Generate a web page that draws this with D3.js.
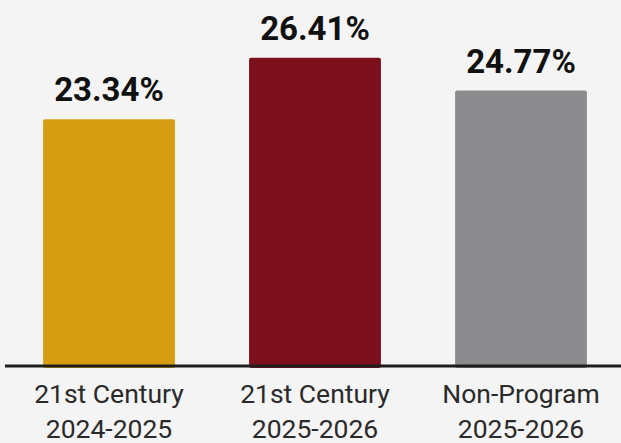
<!DOCTYPE html>
<html>
<head>
<meta charset="utf-8">
<script src="https://cdn.jsdelivr.net/npm/d3@7"></script>
<style>
  html, body { margin: 0; padding: 0; background: #f4f4f4; }
  svg { display: block; }
</style>
</head>
<body>
<script>
const categories = ["21st Century|2024-2025", "21st Century|2025-2026", "Non-Program|2025-2026"];
const values = [23.34, 26.41, 24.77];
const valueLabels = ["23.34%", "26.41%", "24.77%"];
const colors = ["#D69D12", "#7E0F1C", "#8C8C8E"];

const W = 621, H = 443;
const svg = d3.select("body").append("svg").attr("width", W).attr("height", H);
svg.append("rect").attr("width", W).attr("height", H).attr("fill", "#f4f4f4");

const x = d3.scaleBand().domain(categories).range([6, 624]).paddingInner(0.36).paddingOuter(0.18);
const y = d3.scaleLinear().domain([11, 27]).range([366, 46]);

const data = categories.map((c, i) => ({ c, v: values[i], label: valueLabels[i], color: colors[i] }));

svg.selectAll("rect.bar").data(data).join("rect")
  .attr("class", "bar")
  .attr("x", d => x(d.c))
  .attr("width", x.bandwidth())
  .attr("y", d => y(d.v))
  .attr("height", d => y(11) - y(d.v) + 2)
  .attr("rx", 2)
  .attr("fill", d => d.color);

svg.selectAll("text.val").data(data).join("text")
  .attr("class", "val")
  .attr("x", d => x(d.c) + x.bandwidth() / 2)
  .attr("y", d => y(d.v) - 18)
  .attr("text-anchor", "middle")
  .attr("font-family", "Roboto, sans-serif")
  .attr("font-weight", "bold")
  .attr("font-size", 33)
  .attr("fill", "#111")
  .text(d => d.label);

// axis baseline
svg.append("line")
  .attr("x1", 5).attr("x2", W)
  .attr("y1", y(11)).attr("y2", y(11))
  .attr("stroke", "#1e1e1e").attr("stroke-width", 3);

const cat = svg.selectAll("text.cat").data(data).join("text")
  .attr("class", "cat")
  .attr("text-anchor", "middle")
  .attr("font-family", "Roboto, sans-serif")
  .attr("font-size", 26.5)
  .attr("fill", "#2a2a2a");
cat.each(function(d) {
  const parts = d.c.split("|");
  const cx = x(d.c) + x.bandwidth() / 2;
  const t = d3.select(this);
  parts.forEach((p, i) => {
    t.append("tspan").attr("x", cx).attr("y", 403 + i * 35).text(p);
  });
});
</script>
</body>
</html>
